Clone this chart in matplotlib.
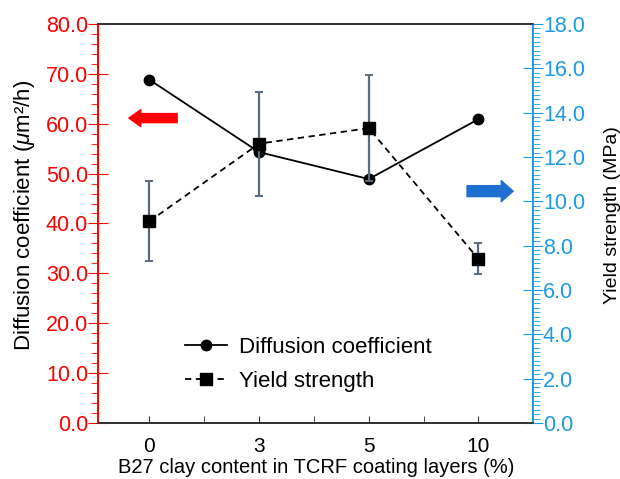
import matplotlib
matplotlib.use("Agg")
import matplotlib.pyplot as plt
import numpy as np

plt.rcParams['font.family'] = ['Liberation Sans', 'DejaVu Sans']
plt.rcParams['mathtext.fontset'] = 'custom'
plt.rcParams['mathtext.rm'] = 'Liberation Sans'
plt.rcParams['mathtext.it'] = 'Liberation Sans:italic'

# data
clay = ['0', '3', '5', '10']
diffusion = [68.8, 54.3, 48.9, 60.9]
yield_strength = [9.1, 12.6, 13.3, 7.4]
yield_err = [1.8, 2.35, 2.4, 0.7]

red = '#ff0000'
blue = '#1d9be2'
dark = '#333333'

fig = plt.figure(figsize=(6.2, 4.79), dpi=100)
ax = fig.add_axes([0.158, 0.117, 0.702, 0.833])
ax2 = ax.twinx()

x = np.arange(len(clay))
l1, = ax.plot(x, diffusion, '-', color='black', lw=1.3, marker='o', ms=7.5, label='Diffusion coefficient', zorder=3)
ax2.errorbar(x, yield_strength, yerr=yield_err, fmt='none', ecolor='#5b6b7d', elinewidth=1.6, capsize=3, capthick=1.4, zorder=2)
l2, = ax2.plot(x, yield_strength, '--', color='black', lw=1.3, dashes=(3.5, 2.5), marker='s', ms=8, label='Yield strength', zorder=3)

# x axis
ax.set_xlim(-0.47, 3.49)
ax.set_xticks(x)
ax.set_xticklabels(clay)
ax.set_xticks([0.5, 1.5, 2.5, 3.5], minor=True)
ax.tick_params(axis='x', which='both', direction='in', length=5, color=dark, labelsize=15, pad=10)
ax.set_xlabel('B27 clay content in TCRF coating layers (%)', fontsize=14.5)
ax.xaxis.set_label_coords(0.501, -0.087)

# left axis
ax.set_ylim(0, 80)
ax.set_yticks(np.arange(0, 81, 10))
ax.set_yticklabels(['%.1f' % v for v in np.arange(0, 81, 10)])
ax.set_yticks(np.arange(0, 81, 2), minor=True)
ax.tick_params(axis='y', which='major', direction='inout', length=14, color=red, labelcolor=red, labelsize=15.5, pad=0)
ax.tick_params(axis='y', which='minor', direction='out', length=5, color=red)
ax.set_ylabel(r'Diffusion coefficient ($\mu$m²/h)', fontsize=16)
ax.yaxis.set_label_coords(-0.14, 0.52)

# right axis
ax2.set_ylim(0, 18)
ax2.set_yticks(np.arange(0, 18.1, 2))
ax2.set_yticklabels(['%.1f' % v for v in np.arange(0, 18.1, 2)])
ax2.set_yticks(np.arange(0, 18.01, 0.2), minor=True)
ax2.tick_params(axis='y', which='major', direction='inout', length=14, color=blue, labelcolor=blue, labelsize=15.5, pad=0)
ax2.tick_params(axis='y', which='minor', direction='out', length=5, color=blue)
ax2.set_ylabel('Yield strength (MPa)', fontsize=14)
ax2.yaxis.set_label_coords(1.163, 0.52)

for a in (ax, ax2):
    a.spines['left'].set_color(red)
    a.spines['right'].set_color(blue)
    a.spines['top'].set_color(dark)
    a.spines['bottom'].set_color(dark)
    for s in a.spines.values():
        s.set_linewidth(1.3)

# arrows pointing to the axes
ax.annotate('', xy=(0.071, 0.764), xytext=(0.182, 0.764), xycoords='axes fraction',
            arrowprops=dict(arrowstyle='simple,head_length=0.86,head_width=1.22,tail_width=0.65',
                            color=red, mutation_scale=10, shrinkA=0, shrinkB=0))
ax.annotate('', xy=(0.954, 0.581), xytext=(0.848, 0.581), xycoords='axes fraction',
            arrowprops=dict(arrowstyle='simple,head_length=0.86,head_width=1.51,tail_width=0.79',
                            color='#1f6fd0', mutation_scale=10, shrinkA=0, shrinkB=0))

ax2.legend([l1, l2], ['Diffusion coefficient', 'Yield strength'], loc='center left',
           bbox_to_anchor=(0.2, 0.147), frameon=False, fontsize=16, handlelength=1.9,
           handletextpad=0.55, labelspacing=0.6, borderpad=0, borderaxespad=0)

fig.savefig('out.png', dpi=100)
